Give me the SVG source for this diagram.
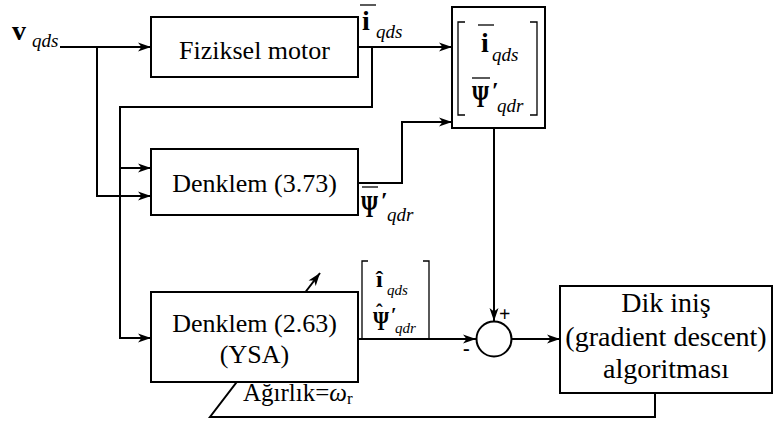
<svg xmlns="http://www.w3.org/2000/svg" width="773" height="423" viewBox="0 0 773 423" font-family="'Liberation Serif', 'Times New Roman', Times, 'DejaVu Serif', serif">
<defs>
<marker id="ah" markerUnits="userSpaceOnUse" markerWidth="14" markerHeight="10" refX="13" refY="5" orient="auto">
<path d="M0,0.5 L13,5 L0,9.5 L3.5,5 z" fill="#000"/>
</marker>
<style>
.box{fill:#fff;stroke:#000;stroke-width:2}
.ln{fill:none;stroke:#000;stroke-width:2}
.thin{fill:none;stroke:#000;stroke-width:1.3}
text{font-family:'Liberation Serif','Times New Roman',Times,'DejaVu Serif',serif;fill:#000}
.t{font-size:26px;text-anchor:middle}
.b{font-weight:bold}
.i{font-style:italic;font-weight:normal}
</style>
</defs>
<rect width="773" height="423" fill="#fff"/>
<g id="connectors">
<path class="ln" d="M60,47 H151" marker-end="url(#ah)"/>
<path class="ln" d="M97,47 V196 H151" marker-end="url(#ah)"/>
<path class="ln" d="M358,47 H452" marker-end="url(#ah)"/>
<path class="ln" d="M372,47 V107 H120 V338 H151" marker-end="url(#ah)"/>
<path class="ln" d="M120,168 H151" marker-end="url(#ah)"/>
<path class="ln" d="M358,183 H402 V122 H452" marker-end="url(#ah)"/>
<path class="ln" d="M494,128 V321" marker-end="url(#ah)"/>
<path class="ln" d="M358,339 H476" marker-end="url(#ah)"/>
<path class="ln" d="M511.5,339 H560" marker-end="url(#ah)"/>
<path class="ln" d="M655,393 V417 H210 L320,273" marker-end="url(#ah)"/>
</g>
<g id="input-label">
<text x="12" y="40"><tspan class="b" font-size="28">v</tspan><tspan class="i" font-size="19" x="32" y="47">qds</tspan></text>
</g>
<g id="fiziksel-motor">
<rect class="box" x="151" y="17" width="207" height="60"/>
<text class="t" x="254.5" y="59">Fiziksel motor</text>
</g>
<g id="i-label">
<line class="thin" x1="360" y1="5" x2="376" y2="5"/>
<text x="362" y="30"><tspan class="b" font-size="28">i</tspan><tspan class="i" font-size="19" x="376" y="38">qds</tspan></text>
</g>
<g id="measured-vector">
<rect class="box" x="452" y="7" width="93" height="121"/>
<path class="thin" d="M465,22 H458 V115 H465 M530,22 H537 V115 H530"/>
<line class="thin" x1="478" y1="25" x2="494" y2="25"/>
<text x="481" y="52"><tspan class="b" font-size="28">i</tspan><tspan class="i" font-size="19" x="492" y="61">qds</tspan></text>
<line class="thin" x1="472" y1="78" x2="490" y2="78"/>
<text x="472" y="107"><tspan class="b" font-size="32" textLength="17" lengthAdjust="spacingAndGlyphs">Ψ</tspan><tspan class="b" font-size="24" x="492" y="98">′</tspan><tspan class="i" font-size="19" x="497" y="112">qdr</tspan></text>
</g>
<g id="denklem-373">
<rect class="box" x="151" y="149" width="207" height="66"/>
<text class="t" x="254.5" y="192">Denklem (3.73)</text>
</g>
<g id="psi-label">
<line class="thin" x1="362" y1="187" x2="378" y2="187"/>
<text x="361" y="217"><tspan class="b" font-size="32" textLength="17" lengthAdjust="spacingAndGlyphs">Ψ</tspan><tspan class="b" font-size="24" x="381" y="208">′</tspan><tspan class="i" font-size="19" x="387" y="221">qdr</tspan></text>
</g>
<g id="denklem-263">
<rect class="box" x="151" y="292" width="207" height="90"/>
<text class="t" x="254.5" y="332">Denklem (2.63)</text>
<text class="t" x="254.5" y="363">(YSA)</text>
</g>
<g id="estimated-vector">
<path class="thin" d="M368,261 H362 V339 M423,261 H429 V339"/>
<text x="376" y="287"><tspan class="b" font-size="24">î</tspan><tspan class="i" font-size="15" x="387" y="295">qds</tspan></text>
<text x="373" y="330"><tspan class="b" font-size="28" textLength="16" lengthAdjust="spacingAndGlyphs">Ψ</tspan><tspan class="b" font-size="20" x="376" y="319">ˆ</tspan><tspan class="b" font-size="20" x="391" y="322">′</tspan><tspan class="i" font-size="15" x="395" y="333">qdr</tspan></text>
</g>
<g id="summing-junction">
<circle class="ln" cx="494" cy="339" r="17.5" fill="#fff"/>
<text class="b" x="499" y="321" font-size="20">+</text>
<text class="b" x="463" y="355" font-size="20">-</text>
</g>
<g id="dik-inis">
<rect class="box" x="560" y="286" width="212" height="107"/>
<text class="t" x="666" y="312" style="font-size:28px">Dik iniş</text>
<text class="t" x="666" y="346" style="font-size:28px">(gradient descent)</text>
<text class="t" x="666" y="378" style="font-size:28px">algoritması</text>
</g>
<g id="weight-label">
<text x="243" y="401" font-size="25">Ağırlık=<tspan class="i">ω</tspan><tspan font-size="17" dy="3">r</tspan></text>
</g>
</svg>
